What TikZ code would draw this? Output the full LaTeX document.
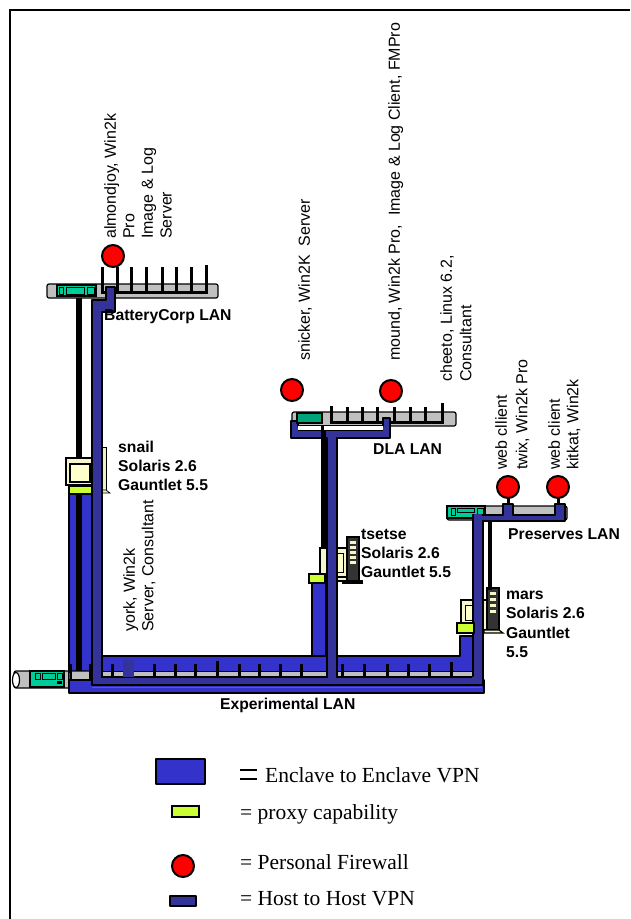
\documentclass[tikz,border=0pt]{standalone}
\usepackage{fontspec}
\setmainfont{Liberation Sans}
\newfontfamily\legendfont{Liberation Serif}
\definecolor{enclaveblue}{HTML}{3333CC}
\definecolor{hostblue}{HTML}{333399}
\definecolor{proxygreen}{HTML}{CCFF33}
\definecolor{hubgreen}{HTML}{00CC99}
\definecolor{lanbar}{HTML}{C0C0C0}
\definecolor{boxbeige}{HTML}{FFFFCC}
\tikzset{
  firewall/.style={circle,draw=black,line width=2pt,fill=red,minimum size=22pt,inner sep=0pt},
  enclave/.style={draw=black,line width=2.2pt,fill=enclaveblue,line join=round},
  hostvpn/.style={draw=black,line width=2.2pt,fill=hostblue,line join=round},
  proxybox/.style={draw=black,line width=2.2pt,fill=proxygreen},
  lanbox/.style={draw=black,line width=1.2pt,fill=lanbar,rounded corners=2pt},
  hubbox/.style={draw=black,line width=1.2pt,fill=hubgreen},
  hubpart/.style={draw=black,line width=0.5pt},
  wire/.style={line width=3pt,black},
  feed/.style={line width=5.5pt,black},
  monitor/.style={draw=black,line width=1.2pt,fill=boxbeige!85!lanbar},
  tower/.style={draw=black,line width=1.2pt,fill=black!80},
  hosttag/.style={font=\fontsize{16}{18.6}\selectfont,rotate=90,anchor=north west,align=left,inner sep=0pt},
  hostlabel/.style={font=\fontsize{15.7}{19.2}\selectfont\bfseries,anchor=north west,align=left,inner sep=0pt},
  legendtext/.style={font=\fontsize{21.5}{24}\selectfont\legendfont,anchor=west,inner sep=0pt}
}
\begin{document}
\begin{tikzpicture}[x=1pt,y=-1pt]
\useasboundingbox (0,0) rectangle (630,919);
\draw[line width=2pt] (10,919)--(10,10)--(630,10);

% experimental lan
\draw[lanbox] (14,671) rectangle (92,688);
\draw[line width=1.2pt,fill=white] (16,680) ellipse (3.5 and 7.5);
\draw[hubbox] (30,671) rectangle (64,687);
\draw[hubpart] (35,673) rectangle (40,679) (42,673) rectangle (55,679) (57,673) rectangle (62,679);
\fill[black] (57,681) rectangle (62,684);
\draw[enclave] (69,490) rectangle (92,680);
\draw[feed] (79,297)--(79,672);
\draw[lanbox] (69,671) rectangle (92,686);
\draw[line width=2pt] (71,664)--(71,683)--(90,683)--(90,664);
\draw[enclave] (69,680)--(484,680)--(484,693)--(69,693)--cycle;

% batterycorp lan
\draw[lanbox] (47,284) rectangle (218,298);
\draw[hubbox] (57,285) rectangle (96,296);
\draw[hubpart] (59,287) rectangle (63,294) (66,287) rectangle (84,294) (87,287) rectangle (94,294);
\draw[wire] (102,267)--(102,292)--(206,292)--(206,265);
\foreach \x in {117,131,146,162,176,191}
  \draw[wire] (\x,267)--(\x,292);
\node[firewall] (almondjoyfw) at (113,256) {};

% snail
\draw[line width=0.7pt,fill=boxbeige!70!lanbar] (100,447) rectangle (106,490);
\draw[line width=0.7pt,fill=boxbeige!70!lanbar] (100,490)--(106,490)--(110,493)--(100,493)--cycle;
\draw[monitor] (66,458) rectangle (92,485);
\draw[line width=1.6pt,fill=boxbeige] (70,464) rectangle (90,482);
\draw[proxybox] (69,486) rectangle (92,494);

% mars
\draw[monitor] (461,600) rectangle (487,630);
\draw[line width=1pt,fill=boxbeige] (465,605) rectangle (472,620);
\draw[tower] (487,588) rectangle (499,630);
\foreach \y in {592,598,604,610}
  \fill[boxbeige!85!lanbar] (490,\y) rectangle (496,\y+2.5);
\draw[monitor] (484,630)--(499,630)--(503,633)--(484,633)--cycle;

% enclave band and host to host path
\draw[enclave] (100,656)--(460,656)--(460,636)--(473,636)--(473,672)--(100,672)--cycle;
\draw[hostvpn] (92,300)--(106,300)--(106,287)--(115,287)--(115,312)--(102,312)--(102,676)--(473,676)--(473,519)--(483,519)--(483,685)--(92,685)--cycle;
\fill[lanbar] (103,672) rectangle (472,676);
\draw[line width=1.6pt] (101,677)--(472,677);
\draw[line width=1pt,black!60] (92,687)--(482,687);
\foreach \x in {112,154,175,195,239,259,280,301,342,364,387,408,429}
  \draw[wire] (\x,664)--(\x,677);
\draw[wire] (217,661)--(217,677);
\draw[wire] (451,662)--(451,677);
\fill[hostblue] (123,660) rectangle (134,677);
\draw[proxybox] (457,623) rectangle (474,633);

% dla lan
\draw[lanbox] (292,412) rectangle (456,426);
\draw[wire] (331,406)--(331,422)--(442,422)--(442,403);
\foreach \x in {347,362,377,394,410,425}
  \draw[wire] (\x,407)--(\x,422);
\draw[hostvpn] (291,421)--(298,421)--(298,426)--(383,426)--(383,418)--(390,418)--(390,438)--(337,438)--(337,676)--(327,676)--(327,438)--(291,438)--cycle;
\fill[hostblue] (328.2,670) rectangle (335.8,684);
\fill[white] (298,426) rectangle (383,430);
\draw[line width=1.2pt] (298,425.5)--(383,425.5) (298,430.5)--(383,430.5);
\draw[wire] (322,425)--(322,431);
\draw[hubbox,fill=hubgreen!80!black] (297,413) rectangle (322,423);
\draw[feed] (323.5,431)--(323.5,548);
\node[firewall] (snickerfw) at (292,390) {};
\node[firewall] (moundfw) at (391,391) {};

% tsetse
\draw[monitor] (320,548) rectangle (327,577);
\draw[monitor] (337,548) rectangle (347,577);
\draw[line width=1pt,fill=boxbeige] (337,553) rectangle (343,572);
\draw[monitor] (337,577)--(347,577)--(347,581)--(337,581)--cycle;
\draw[tower] (347,537) rectangle (359,581);
\foreach \y in {541,546,551,556,561}
  \fill[boxbeige!85!lanbar] (350,\y) rectangle (356,\y+2.5);
\draw[monitor] (343,581)--(362,581)--(362,583)--(343,583)--cycle;
\draw[enclave] (312,583) rectangle (326,656);
\draw[proxybox] (309,574) rectangle (325,583);

% preserves lan
\draw[lanbox] (447,506) rectangle (567,520);
\draw[hubbox] (447,506) rectangle (485,518);
\draw[hubpart] (451,508) rectangle (455,515) (457,508) rectangle (474,512) (477,508) rectangle (483,515);
\draw[hostvpn] (473,515)--(503,515)--(503,504)--(513,504)--(513,515)--(555,515)--(555,504)--(565,504)--(565,521)--(483,521)--(473,521)--cycle;
\fill[hostblue] (474.2,514) rectangle (481.8,530);
\draw[wire] (508,498)--(508,504) (558,498)--(558,504);
\draw[feed,line width=4.5pt] (490,521)--(490,590);
\node[firewall] (twixfw) at (508,487) {};
\node[firewall] (kitkatfw) at (558,487) {};

% labels
\node[hosttag] (almondjoy) at (104,239) {almondjoy, Win2k\\Pro\\Image \& Log\\Server};
\node[hosttag] (snicker) at (298,361) {snicker, Win2K\ \ Server};
\node[hosttag] (mound) at (388,361) {mound, Win2k Pro,\ \ Image \& Log Client, FMPro};
\node[hosttag] (cheeto) at (440,382) {cheeto, Linux 6.2,\\[1pt]Consultant};
\node[hosttag] (york) at (123,632) {york, Win2k\\Server, Consultant};
\node[hosttag] (twix) at (495,470) {web cllient\\[2pt]twix, Win2k Pro};
\node[hosttag] (kitkat) at (548,470) {web client\\kitkat, Win2k};
\node[hostlabel] (batterycorp) at (104,309) {BatteryCorp LAN};
\node[hostlabel] (snail) at (118,441) {snail\\Solaris 2.6\\Gauntlet 5.5};
\node[hostlabel] (dla) at (373,443) {DLA LAN};
\node[hostlabel] (tsetse) at (361,529) {tsetse\\Solaris 2.6\\Gauntlet 5.5};
\node[hostlabel] (preserves) at (508,528) {Preserves LAN};
\node[hostlabel] (mars) at (506,591) {mars\\Solaris 2.6\\Gauntlet\\5.5};
\node[hostlabel] (experimental) at (220,698) {Experimental LAN};

% legend
\draw[enclave] (156,759) rectangle (205,784);
\draw[proxybox] (172,806) rectangle (199,817);
\node[firewall] (legendfw) at (183,866) {};
\draw[hostvpn] (170,896) rectangle (196,906);
\draw[line width=1.2pt] (240,770)--(257,770) (240,779)--(257,779);
\node[legendtext] (enclavetext) at (265,775) {Enclave to Enclave VPN};
\node[legendtext] (proxytext) at (240,814) {= proxy capability};
\node[legendtext] (firewalltext) at (240,862) {= Personal Firewall};
\node[legendtext] (hosttext) at (240,899) {= Host to Host VPN};
\end{tikzpicture}
\end{document}
